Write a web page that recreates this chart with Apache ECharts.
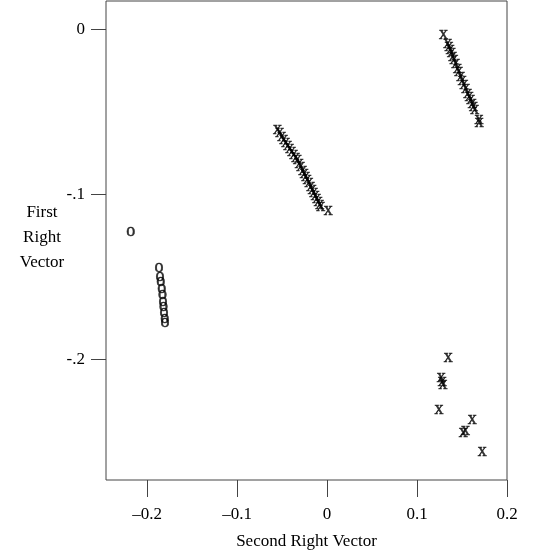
<!DOCTYPE html>
<html>
<head>
<meta charset="utf-8">
<script src="https://cdn.jsdelivr.net/npm/echarts@6/dist/echarts.min.js"></script>
<style>
  html, body { margin: 0; padding: 0; background: #fff; }
  #chart { width: 533px; height: 558px; }
</style>
</head>
<body>
<div id="chart"></div>
<script>
// [second right vector, first right vector]
var upperRightX = [
  [0.1293, -0.0026], [0.1341, -0.0079], [0.1356, -0.0100], [0.1369, -0.0115],
  [0.1382, -0.0136], [0.1397, -0.0158], [0.1411, -0.0179], [0.1430, -0.0203],
  [0.1449, -0.0230], [0.1463, -0.0248], [0.1486, -0.0279], [0.1502, -0.0303],
  [0.1522, -0.0330], [0.1541, -0.0352], [0.1563, -0.0382], [0.1580, -0.0400],
  [0.1597, -0.0421], [0.1613, -0.0442], [0.1627, -0.0461], [0.1641, -0.0479],
  [0.1689, -0.0541], [0.1691, -0.0558]
];
var middleX = [
  [-0.0551, -0.0602], [-0.0526, -0.0621], [-0.0503, -0.0642], [-0.0481, -0.0661],
  [-0.0459, -0.0679], [-0.0437, -0.0697], [-0.0414, -0.0718], [-0.0392, -0.0736],
  [-0.0370, -0.0752], [-0.0348, -0.0770], [-0.0329, -0.0784], [-0.0309, -0.0806],
  [-0.0292, -0.0827], [-0.0270, -0.0848], [-0.0253, -0.0867], [-0.0237, -0.0885],
  [-0.0220, -0.0903], [-0.0200, -0.0925], [-0.0181, -0.0945], [-0.0164, -0.0964],
  [-0.0148, -0.0982], [-0.0131, -0.1003], [-0.0114, -0.1021], [-0.0098, -0.1036],
  [-0.0081, -0.1055], [-0.0070, -0.1070], [0.0013, -0.1090]
];
var lowerRightX = [
  [0.1348, -0.1986], [0.1270, -0.2103], [0.1280, -0.2127], [0.1290, -0.2147],
  [0.1245, -0.2299], [0.1615, -0.2360], [0.1515, -0.2440], [0.1540, -0.2426],
  [0.1726, -0.2552]
];
var circlesO = [
  [-0.2182, -0.1218], [-0.1867, -0.1440], [-0.1855, -0.1491], [-0.1848, -0.1521],
  [-0.1837, -0.1562], [-0.1829, -0.1602], [-0.1822, -0.1642], [-0.1818, -0.1673],
  [-0.1811, -0.1713], [-0.1803, -0.1744], [-0.1800, -0.1774]
];
var xTicks = [-0.2, -0.1, 0, 0.1, 0.2];
var xTickText = ['\u20130.2', '\u20130.1', '0', '0.1', '0.2'];
var yTicks = [0, -0.1, -0.2];
var yTickText = ['0', '-.1', '-.2'];

var serif = '"Liberation Serif", "DejaVu Serif", serif';
var lineColor = '#444';

function charSeries(data, ch) {
  return {
    type: 'scatter',
    data: data,
    symbol: 'circle',
    symbolSize: 1,
    itemStyle: { color: 'rgba(0,0,0,0)' },
    silent: true,
    label: {
      show: true,
      position: 'inside',
      formatter: ch,
      color: '#000',
      fontFamily: serif,
      fontSize: 18,
      textBorderColor: '#000',
      textBorderWidth: 0.5,
      offset: [0, 1]
    },
    emphasis: { disabled: true },
    animation: false
  };
}

var myChart = echarts.init(document.getElementById('chart'), null, { renderer: 'canvas' });

var option = {
  animation: false,
  grid: {
    left: 106, right: 26, top: 1, bottom: 78,
    show: true, borderColor: lineColor, borderWidth: 1,
    backgroundColor: 'transparent'
  },
  xAxis: {
    type: 'value',
    min: -0.2456, max: 0.2,
    splitLine: { show: false },
    axisLine: { show: false, onZero: false },
    axisTick: { show: true, length: 17, customValues: xTicks, lineStyle: { color: lineColor } },
    axisLabel: {
      customValues: xTicks,
      margin: 26,
      color: '#000', fontFamily: serif, fontSize: 17,
      formatter: function (v) { return xTickText[xTicks.indexOf(Math.round(v * 10) / 10)]; }
    },
    name: 'Second Right Vector',
    nameLocation: 'middle',
    nameGap: 53,
    nameTextStyle: { color: '#000', fontFamily: serif, fontSize: 17 }
  },
  yAxis: {
    type: 'value',
    min: -0.2733, max: 0.017,
    splitLine: { show: false },
    axisLine: { show: false, onZero: false },
    axisTick: { show: true, length: 15, customValues: yTicks, lineStyle: { color: lineColor } },
    axisLabel: {
      customValues: yTicks,
      margin: 21,
      color: '#000', fontFamily: serif, fontSize: 17,
      formatter: function (v) { return yTickText[yTicks.indexOf(Math.round(v * 10) / 10)]; }
    }
  },
  graphic: [{
    type: 'text',
    x: 42, y: 238,
    style: {
      text: 'First\nRight\nVector',
      align: 'center', verticalAlign: 'middle',
      lineHeight: 25,
      fill: '#000',
      font: '17px ' + serif
    }
  }],
  series: [
    charSeries(upperRightX, 'x'),
    charSeries(middleX, 'x'),
    charSeries(lowerRightX, 'x'),
    charSeries(circlesO, 'o')
  ]
};

myChart.setOption(option);
window.addEventListener('resize', myChart.resize);
</script>
</body>
</html>
